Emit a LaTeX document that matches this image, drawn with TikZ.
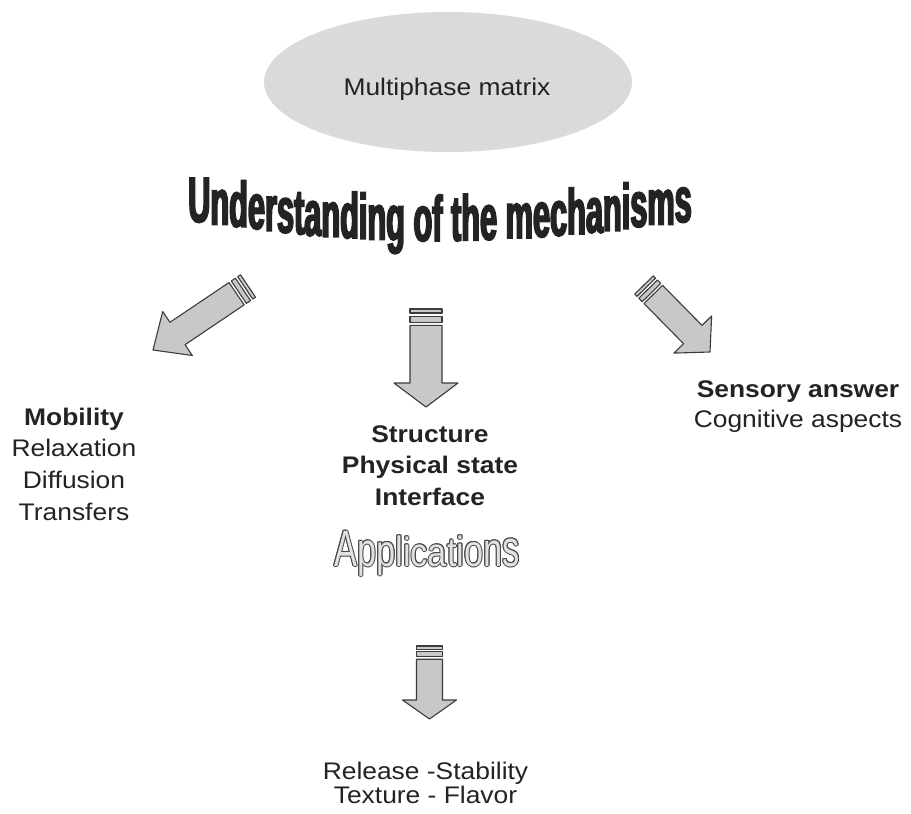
\documentclass[tikz,border=0pt]{standalone}
\usepackage{fontspec}
\setmainfont{Liberation Sans}[FakeStretch=1.1]
\newfontfamily\titlefont{Liberation Sans}[FakeStretch=0.48,FakeBold=2.6]
\newfontfamily\appfont{Liberation Sans}[FakeStretch=0.86]
\usetikzlibrary{shapes.geometric,calc,decorations.text}
\definecolor{txt}{RGB}{35,35,35}
\definecolor{ellfill}{RGB}{218,218,218}
\definecolor{arrfill}{RGB}{200,200,200}
\definecolor{arrline}{RGB}{60,60,60}
\definecolor{appline}{RGB}{70,70,70}
\definecolor{appfill}{RGB}{225,225,225}
\newcommand\titlefmt{\titlefont\bfseries\fontsize{64}{64}\selectfont}
\newcommand\appfmt{\appfont\fontsize{40}{40}\selectfont}
% #1 tail, #2 tip, #3 shaft half width, #4 head half width, #5 head base distance from tail
\newcommand\stripedarrow[5]{%
  \pgfmathsetmacro\sA{0.25*#3}%
  \pgfmathsetmacro\sB{0.45*#3}%
  \pgfmathsetmacro\sC{0.82*#3}%
  \pgfmathsetmacro\sD{1.02*#3}%
  \filldraw[arrowbody] ($(#1)!#3pt!90:(#2)$) -- ($(#1)!\sA pt!(#2)!#3pt!90:(#2)$) -- ($(#1)!\sA pt!(#2)!#3pt!-90:(#2)$) -- ($(#1)!#3pt!-90:(#2)$) -- cycle;
  \filldraw[arrowbody] ($(#1)!\sB pt!(#2)!#3pt!90:(#2)$) -- ($(#1)!\sC pt!(#2)!#3pt!90:(#2)$) -- ($(#1)!\sC pt!(#2)!#3pt!-90:(#2)$) -- ($(#1)!\sB pt!(#2)!#3pt!-90:(#2)$) -- cycle;
  \filldraw[arrowbody] ($(#1)!\sD pt!(#2)!#3pt!90:(#2)$) -- ($(#1)!#5pt!(#2)!#3pt!90:(#2)$) -- ($(#1)!#5pt!(#2)!#4pt!90:(#2)$) -- (#2) -- ($(#1)!#5pt!(#2)!#4pt!-90:(#2)$) -- ($(#1)!#5pt!(#2)!#3pt!-90:(#2)$) -- ($(#1)!\sD pt!(#2)!#3pt!-90:(#2)$) -- cycle;
}
% outlined, "deflated" word: #1 colour, #2 shift
\newcommand\appword[2]{%
  \path[decorate,shift={#2},decoration={text effects along path,text={Applications},text align=center,
    text effects/.cd,character count=\ci,character total=\cn,
    characters={anchor=base,inner sep=0pt,outer sep=0pt,font=\appfmt,text=#1,transform shape,
      yscale={1+0.28*((2*\ci-\cn-1)/(\cn-1))*((2*\ci-\cn-1)/(\cn-1))}}}]
    (290,566) -- (564,566);
}
\begin{document}
\begin{tikzpicture}[x=1pt,y=-1pt,
  arrowbody/.style={fill=arrfill,draw=arrline,line width=1.1pt,line join=round},
  lbl/.style={font=\fontsize{24}{28}\selectfont,anchor=base,inner sep=0pt,text=txt},
  blbl/.style={lbl,font=\fontsize{24}{28}\selectfont\bfseries}]
\useasboundingbox (0,0) rectangle (911,814);
\fill[white] (0,0) rectangle (911,814);

% ellipse
\node[ellipse,fill=ellfill,minimum width=368pt,minimum height=140pt,inner sep=0pt] (ell) at (448,82) {};
\node[lbl] (mm) at (447,95) {Multiphase matrix};

% title: upright letters on a sagging baseline
\path[decorate,decoration={text effects along path,text={Understanding of the mechanisms},text align=center,
    text effects/.cd,character count=\ci,character total=\cn,
    characters={anchor=base,inner sep=0pt,outer sep=0pt,font=\titlefmt,text=txt,
      yshift={-19pt*(1-((2*\ci-\cn-1)/(\cn-1))*((2*\ci-\cn-1)/(\cn-1)))}}}]
  (140,222) -- (740,222);

% arrows
\coordinate (lt) at (248,286); \coordinate (lp) at (153,350);
\coordinate (ct) at (426,309); \coordinate (cp) at (426,407);
\coordinate (rt) at (644,285); \coordinate (rp) at (710,352);
\coordinate (bt) at (429.5,646); \coordinate (bp) at (429.5,719);
\stripedarrow{lt}{lp}{13.5}{26.5}{85}
\stripedarrow{ct}{cp}{16}{32}{74}
\stripedarrow{rt}{rp}{13}{26.5}{69.5}
\stripedarrow{bt}{bp}{13}{27}{54}

% left block
\node[blbl] (mob) at (74,425) {Mobility};
\node[lbl] (rel) at (74,456) {Relaxation};
\node[lbl] (dif) at (74,488) {Diffusion};
\node[lbl] (tra) at (74,520) {Transfers};

% centre block
\node[blbl] (str) at (430,442) {Structure};
\node[blbl] (phy) at (430,473) {Physical state};
\node[blbl] (int) at (430,505) {Interface};

% right block
\node[blbl] (sen) at (798,397) {Sensory answer};
\node[lbl] (cog) at (798,427) {Cognitive aspects};

% Applications (outlined)
\foreach \dx/\dy in {1/0,-1/0,0/1,0/-1,0.7/0.7,-0.7/0.7,0.7/-0.7,-0.7/-0.7}{
  \appword{appline}{(\dx,\dy)}
}
\appword{appfill}{(0,0)}

% bottom block
\node[lbl] (rls) at (425.5,779.5) {Release -Stability};
\node[lbl] (tex) at (425.5,803) {Texture - Flavor};
\end{tikzpicture}
\end{document}
